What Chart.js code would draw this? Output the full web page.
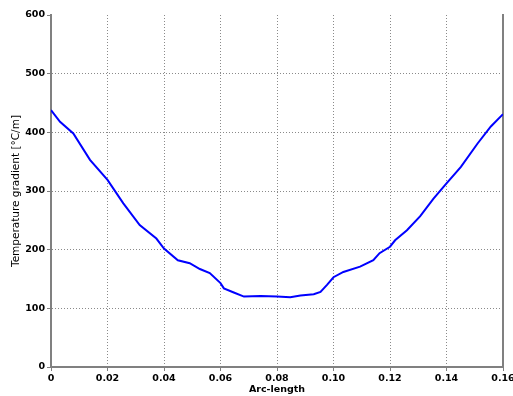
<!DOCTYPE html>
<html>
<head>
<meta charset="utf-8">
<script src="https://cdn.jsdelivr.net/npm/chart.js@4"></script>
<style>
	html, body { margin: 0; padding: 0; background: #fff; }
	#wrap { width: 513px; height: 396px; }
</style>
</head>
<body>
<div id="wrap"><canvas id="chart" width="513" height="396"></canvas></div>
<script>
// values
const arcLength = [0, 0.0032, 0.0079, 0.0138, 0.02, 0.0256, 0.0314, 0.0373, 0.04, 0.0449, 0.0491, 0.0527, 0.0562, 0.06, 0.0612, 0.0647, 0.0683, 0.0742, 0.08, 0.0847, 0.0883, 0.093, 0.0954, 0.0977, 0.1, 0.1035, 0.1094, 0.1141, 0.1163, 0.12, 0.1218, 0.126, 0.1307, 0.1354, 0.14, 0.1451, 0.151, 0.1557, 0.16];
const gradient = [438, 418, 398, 353, 319, 279, 242, 219, 202, 182, 177, 167, 160, 143, 134, 127, 120, 121, 120, 119, 122, 124, 128, 140, 153, 162, 171, 182, 194, 205, 216, 233, 257, 287, 313, 341, 381, 410, 431];
const xTicks = [0, 0.02, 0.04, 0.06, 0.08, 0.1, 0.12, 0.14, 0.16];
const yTicks = [0, 100, 200, 300, 400, 500, 600];

const tickFont = { family: "DejaVu Sans", size: 9.5, weight: "bold" };
const gridStyle = {
	color: (ctx) => (ctx.tick && ctx.tick.value === 600 ? "rgba(0,0,0,0)" : "#8a8a8a"),
	tickBorderDash: [],
	tickColor: "#808080",
	tickLength: 4,
	lineWidth: 1,
};
const borderStyle = { display: true, color: "#808080", width: 2, dash: [1, 2] };

new Chart(document.getElementById("chart"), {
	type: "line",
	data: {
		datasets: [
			{
				data: arcLength.map((x, i) => ({ x: x, y: gradient[i] })),
				borderColor: "#0000ff",
				borderWidth: 2,
				pointRadius: 0,
				tension: 0,
				fill: false,
			},
		],
	},
	options: {
		responsive: false,
		animation: false,
		layout: { padding: { top: 15, right: 0, left: 0, bottom: 0 } },
		plugins: { legend: { display: false }, tooltip: { enabled: false } },
		scales: {
			x: {
				type: "linear",
				min: 0,
				max: 0.16,
				afterBuildTicks: (scale) => {
					scale.ticks = xTicks.map((v) => ({ value: v }));
				},
				afterFit: (scale) => {
					scale.height = 29;
					scale.paddingLeft = 0;
					scale.paddingRight = 0;
				},
				ticks: {
					font: tickFont,
					color: "#000",
					padding: 2,
					maxRotation: 0,
					autoSkip: false,
				},
				grid: gridStyle,
				border: borderStyle,
				title: {
					display: true,
					text: "Arc-length",
					font: { family: "DejaVu Sans", size: 9.5, weight: "bold" },
					color: "#000",
					padding: { top: 0, bottom: 1 },
				},
			},
			y: {
				min: 0,
				max: 600,
				afterBuildTicks: (scale) => {
					scale.ticks = yTicks.map((v) => ({ value: v }));
				},
				afterFit: (scale) => {
					scale.width = 51;
				},
				ticks: { font: tickFont, color: "#000", padding: 2 },
				grid: gridStyle,
				border: borderStyle,
				title: {
					display: true,
					text: "Temperature gradient [°C/m]",
					font: { family: "DejaVu Sans", size: 10.5 },
					color: "#000",
					padding: { top: 9.5, bottom: 0 },
				},
			},
			yRight: {
				position: "right",
				min: 0,
				max: 600,
				afterFit: (scale) => {
					scale.width = 10;
				},
				ticks: { display: false },
				grid: { display: false },
				border: { display: true, color: "#808080", width: 2 },
			},
		},
	},
});
</script>
</body>
</html>
